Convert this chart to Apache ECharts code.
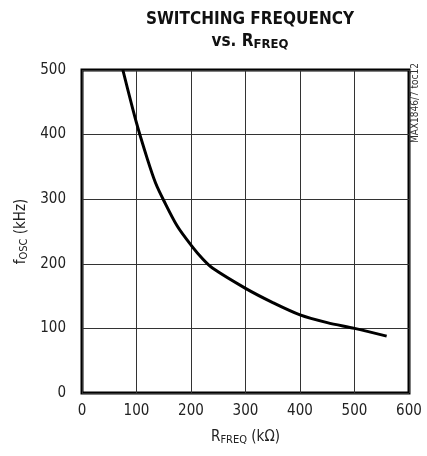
<!DOCTYPE html>
<html><head><meta charset="utf-8">
<script src="https://cdn.jsdelivr.net/npm/echarts@6/dist/echarts.min.js"></script>
<style>html,body{margin:0;padding:0;background:#fff}#c{width:427px;height:456px}</style>
</head><body><div id="c"></div>
<script>
const rfreq = [75, 100, 120, 135, 150, 175, 200, 222, 240, 300, 350, 400, 450, 500, 559];
const fosc  = [500, 418, 362, 325, 298, 258, 229, 207, 193, 162, 140, 121, 109, 100, 88];
const xTicks = [0, 100, 200, 300, 400, 500, 600];
const yTicks = [0, 100, 200, 300, 400, 500];

const FONT = '"Liberation Sans Narrow","DejaVu Sans Condensed",Arial,sans-serif';
const chart = echarts.init(document.getElementById('c'));
chart.setOption({
  animation: false,
  backgroundColor: '#fff',
  title: {
    text: '{b|SWITCHING FREQUENCY}\n{b|vs. R}{s|FREQ}',
    left: 245, top: 4, textAlign: 'center',
    textStyle: {
      rich: {
        b: {fontFamily: FONT, fontWeight: 'bold', fontSize: 17, color: '#111', lineHeight: 22},
        s: {fontFamily: FONT, fontWeight: 'bold', fontSize: 13, color: '#111', lineHeight: 22, padding: [6, 0, 0, 0]}
      }
    }
  },
  grid: {left: 82, right: 18, top: 70, bottom: 63, show: true, borderColor: '#000', borderWidth: 3},
  xAxis: {
    type: 'value', min: 0, max: 600, interval: 100,
    axisLine: {show: false}, axisTick: {show: false},
    splitLine: {show: true, lineStyle: {color: '#333', width: 1}},
    axisLabel: {fontFamily: FONT, fontSize: 15, color: '#222', margin: 11},
    name: '{m|R}{s|FREQ}{m| (kΩ)}', nameLocation: 'middle', nameGap: 36,
    nameTextStyle: {rich: {
      m: {fontFamily: FONT, fontSize: 15, color: '#222'},
      s: {fontFamily: FONT, fontSize: 11, color: '#222', padding: [6, 0, 0, 0]}
    }}
  },
  yAxis: {
    type: 'value', min: 0, max: 500, interval: 100,
    axisLine: {show: false}, axisTick: {show: false},
    splitLine: {show: true, lineStyle: {color: '#333', width: 1}},
    axisLabel: {fontFamily: FONT, fontSize: 15, color: '#222', margin: 16},
    name: '{m|f}{s|OSC}{m| (kHz)}', nameLocation: 'middle', nameGap: 46,
    nameTextStyle: {rich: {
      m: {fontFamily: FONT, fontSize: 15, color: '#222'},
      s: {fontFamily: FONT, fontSize: 11, color: '#222', padding: [6, 0, 0, 0]}
    }}
  },
  graphic: [{
    type: 'text', x: 420, y: 103, rotation: Math.PI / 2,
    style: {text: 'MAX1846/7 toc12', font: '10px ' + FONT, fill: '#333', align: 'center', verticalAlign: 'bottom'}
  }],
  series: [{
    type: 'line', data: rfreq.map((r, i) => [r, fosc[i]]),
    smooth: 0.3, showSymbol: false,
    lineStyle: {color: '#000', width: 3}
  }]
});
</script></body></html>
